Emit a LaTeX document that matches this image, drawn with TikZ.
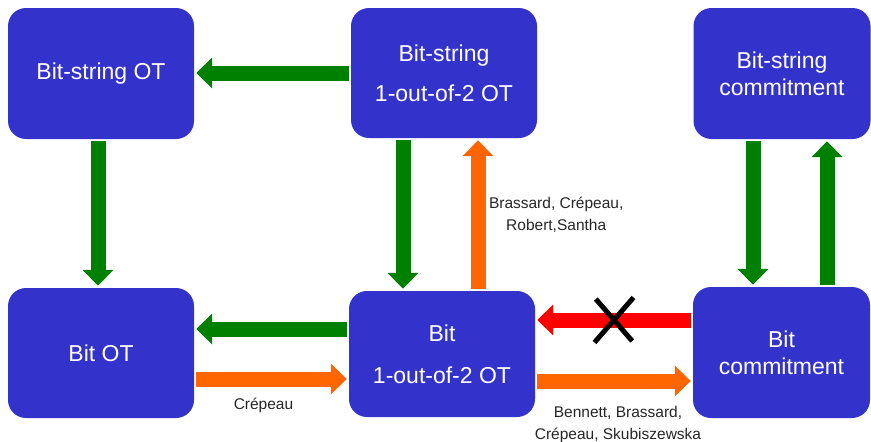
\documentclass[tikz,border=0pt]{standalone}
\usepackage{fontspec}
\setmainfont{Liberation Sans}
\usetikzlibrary{arrows.meta,shapes.misc,positioning}
\definecolor{boxblue}{RGB}{51,51,204}
\definecolor{okgreen}{RGB}{0,128,0}
\definecolor{redorange}{RGB}{255,102,0}
\definecolor{nored}{RGB}{255,0,0}
\tikzset{
  box/.style={rounded corners=18pt, fill=boxblue, text=white, align=center,
    font=\fontsize{23}{27}\selectfont, minimum width=186pt, minimum height=130pt, inner sep=0pt},
  blockarrow/.style={line width=15pt, -{Triangle[length=16pt,width=30pt]},
    shorten <=2pt, shorten >=2pt},
  greenarrow/.style={blockarrow, draw=okgreen},
  orangearrow/.style={blockarrow, draw=redorange},
  redarrow/.style={blockarrow, draw=nored},
  authors/.style={text=black!85, align=center, font=\fontsize{15.5}{22}\selectfont,
    inner sep=2pt, outer sep=0pt},
  crossmark/.style={cross out, draw=black, line width=5pt, minimum width=34pt,
    minimum height=40pt, inner sep=0pt}
}
\begin{document}
\begin{tikzpicture}[x=1pt,y=-1pt]
    \useasboundingbox (0,0) rectangle (871,442);

    \node[box, minimum height=131pt] (tl) at (101,73.5) {Bit-string OT};
    \node[box, font=\fontsize{23}{40}\selectfont] (tm) at (444,73) {Bit-string\\1-out-of-2 OT};
    \node[box, minimum width=177pt, minimum height=131pt] (tr) at (782,73.5) {Bit-string\\commitment};
    \node[box] (bl) at (101,353) {Bit OT};
    \node[box, minimum height=126pt, font=\fontsize{23}{42}\selectfont] (bm) at (442,354) {Bit\\1-out-of-2 OT};
    \node[box, minimum width=177pt, minimum height=131pt] (br) at (781.5,352.5) {Bit\\commitment};

    \draw[greenarrow] (tm.west) -- (tm.west -| tl.east);
    \draw[greenarrow] ([xshift=-3pt]tl.south) -- ([xshift=-3pt]tl.south |- bl.north);
    \draw[greenarrow] ([xshift=-41pt]tm.south) -- ([xshift=-41pt]tm.south |- bm.north);
    \draw[orangearrow] ([xshift=36pt]bm.north) -- ([xshift=36pt]bm.north |- tm.south)
        node[authors, midway, right=9pt] {Brassard, Crépeau,\\Robert,Santha};
    \draw[greenarrow] ([yshift=25pt]bm.west) -- ([yshift=25pt]bm.west -| bl.east);
    \draw[orangearrow] ([yshift=-26pt]bl.east) -- ([yshift=-26pt]bl.east -| bm.west)
        node[authors, midway, below=17.5pt, xshift=-8pt] {Crépeau};
    \draw[redarrow] ([yshift=32.5pt]br.west) -- ([yshift=32.5pt]br.west -| bm.east)
        node[crossmark, midway] (nox) {};
    \draw[orangearrow] ([yshift=-27pt]bm.east) -- ([yshift=-27pt]bm.east -| br.west)
        node[authors, midway, below=23.5pt, xshift=4pt] {Bennett, Brassard,\\Crépeau, Skubiszewska};
    \draw[greenarrow] ([xshift=-29pt]tr.south) -- ([xshift=-29pt]tr.south |- br.north);
    \draw[greenarrow] ([xshift=45.5pt]br.north) -- ([xshift=45.5pt]br.north |- tr.south);
\end{tikzpicture}
\end{document}
